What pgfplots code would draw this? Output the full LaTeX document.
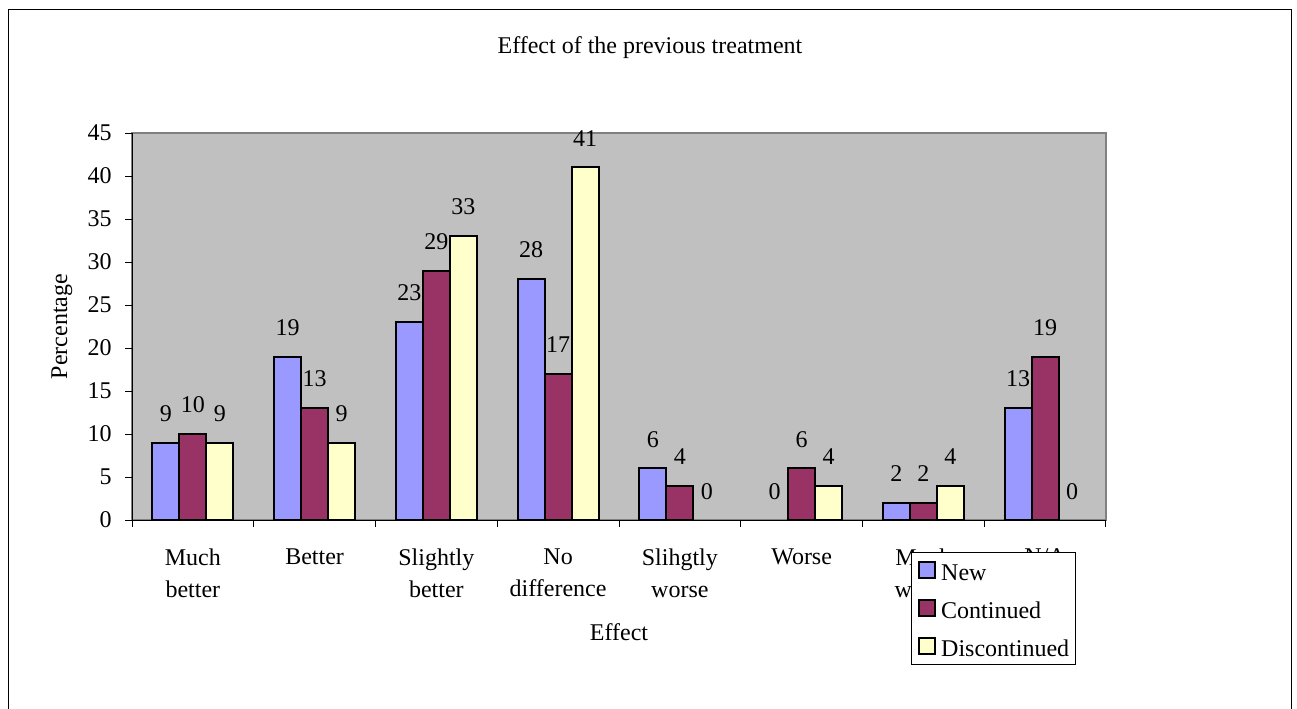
\documentclass[border=0pt]{standalone}
\usepackage{fontspec}
\setmainfont{Liberation Serif}
\usepackage{pgfplots}
\pgfplotsset{compat=1.18}
\definecolor{cnew}{HTML}{9999FF}
\definecolor{ccont}{HTML}{993366}
\definecolor{cdisc}{HTML}{FFFFCC}
\definecolor{plotbg}{HTML}{C0C0C0}
\definecolor{plotborder}{HTML}{808080}
\begin{document}
\fontsize{18}{21}\selectfont
\begin{tikzpicture}[font=\fontsize{18}{21}\selectfont]
\useasboundingbox (0,0) rectangle (972.75pt,531pt);
\draw[line width=0.75pt] (6pt,-5pt) -- (6pt,523.5pt) -- (968.25pt,523.5pt) -- (968.25pt,-5pt);
\begin{axis}[
  at={(99pt,141pt)}, anchor=south west,
  scale only axis, width=730.5pt, height=290.25pt,
  ybar=0pt, bar width=20.25pt,
  xmin=-0.5, xmax=7.5, ymin=0, ymax=45,
  ytick={0,5,...,45},
  xtick={0,...,7},
  xticklabels={{Much\\better},{Better},{Slightly\\better},{No\\difference},{Slihgtly\\worse},{Worse},{Much\\worse},{N/A}},
  minor xtick={-0.5,0.5,...,7.5},
  major x tick style={draw=none},
  tick align=outside, major tick length=5pt, minor tick length=5pt,
  axis x line*=bottom, axis y line*=left,
  axis line style={black, line width=0.75pt},
  tick style={black, line width=0.75pt},
  axis background/.style={fill=plotbg, draw=plotborder, line width=1.5pt},
  /pgf/number format/assume math mode=true,
  yticklabel style={inner sep=0pt, anchor=east, xshift=-10pt},
  xticklabel style={align=center, anchor=north, inner sep=0pt, yshift=-16.5pt, font=\fontsize{18}{24}\selectfont},
  nodes near coords,
  every node near coord/.append style={anchor=south, inner sep=0pt, yshift=15pt, black},
  title={Effect of the previous treatment},
  title style={at={(axis description cs:0.5318,1.199)}, anchor=center, yshift=0pt},
  ylabel={Percentage},
  ylabel style={at={(axis description cs:-0.0719,0.5)}, anchor=center},
  xlabel={Effect},
  xlabel style={at={(axis description cs:0.5,-0.2894)}, anchor=center},
  legend cell align=left,
  legend style={at={(axis description cs:0.7998,-0.0827)}, anchor=north west,
    draw=black, line width=0.75pt, fill=white, row sep=13.5pt, column sep=3.75pt,
    inner xsep=5pt, inner ysep=6pt,
    nodes={inner sep=0pt, text height=12.5pt, text depth=0pt}},
  legend image code/.code={\draw[#1, line width=1.5pt] (0pt,-4pt) rectangle (12pt,8pt);},
]
\addplot[fill=cnew, draw=black, line width=1.5pt, bar shift=-20.25pt] coordinates {(0,9) (1,19) (2,23) (3,28) (4,6) (6,2) (7,13)};
\addplot[fill=ccont, draw=black, line width=1.5pt, bar shift=0pt] coordinates {(0,10) (1,13) (2,29) (3,17) (4,4) (5,6) (6,2) (7,19)};
\addplot[fill=cdisc, draw=black, line width=1.5pt, bar shift=20.25pt] coordinates {(0,9) (1,9) (2,33) (3,41) (5,4) (6,4)};
\addplot[draw=none, fill=none, forget plot, bar shift=-20.25pt] coordinates {(5,0)};
\addplot[draw=none, fill=none, forget plot, bar shift=20.25pt] coordinates {(4,0) (7,0)};
\legend{New,Continued,Discontinued}
\end{axis}
\end{tikzpicture}
\end{document}
